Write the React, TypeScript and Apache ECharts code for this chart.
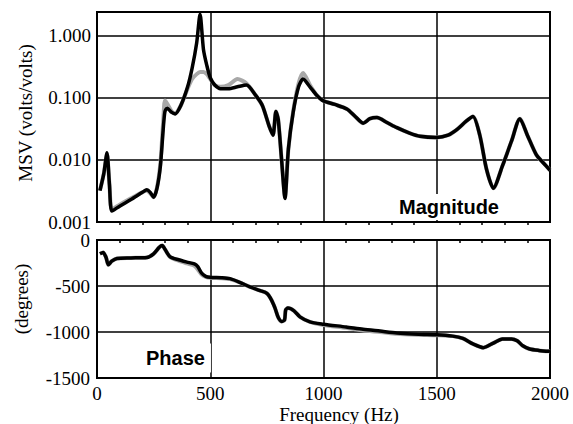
import React, { useEffect, useRef } from "react";
import * as echarts from "echarts";

const magFreq = [13, 30, 44, 55, 66, 100, 150, 200, 220, 235, 250, 265, 280, 292, 300, 310, 330, 345, 370, 400, 420, 440, 455, 470, 485, 500, 520, 545, 580, 620, 660, 700, 730, 760, 777, 790, 800, 815, 830, 845, 866, 890, 910, 940, 970, 1000, 1050, 1103, 1140, 1175, 1205, 1236, 1280, 1324, 1380, 1426, 1500, 1550, 1590, 1630, 1660, 1690, 1720, 1750, 1790, 1830, 1867, 1900, 1940, 1970, 2000];
const magBlack = [0.0032, 0.006, 0.013, 0.004, 0.0015, 0.0018, 0.0023, 0.003, 0.0033, 0.003, 0.0025, 0.0035, 0.008, 0.03, 0.06, 0.068, 0.058, 0.055, 0.075, 0.15, 0.3, 0.76, 2.2, 0.6, 0.33, 0.21, 0.16, 0.14, 0.14, 0.15, 0.16, 0.11, 0.075, 0.035, 0.025, 0.06, 0.045, 0.01, 0.0024, 0.015, 0.058, 0.15, 0.2, 0.15, 0.11, 0.089, 0.078, 0.066, 0.05, 0.039, 0.046, 0.048, 0.04, 0.033, 0.027, 0.024, 0.023, 0.025, 0.031, 0.042, 0.05, 0.025, 0.007, 0.0035, 0.008, 0.02, 0.046, 0.025, 0.012, 0.009, 0.0068];
const magGray = [0.0032, 0.006, 0.012, 0.004, 0.0016, 0.0019, 0.0024, 0.003, 0.0032, 0.0029, 0.0025, 0.0036, 0.009, 0.04, 0.09, 0.08, 0.06, 0.056, 0.075, 0.14, 0.2, 0.24, 0.26, 0.26, 0.24, 0.2, 0.16, 0.15, 0.16, 0.2, 0.17, 0.11, 0.075, 0.035, 0.025, 0.06, 0.045, 0.01, 0.0026, 0.015, 0.06, 0.17, 0.25, 0.16, 0.11, 0.089, 0.078, 0.066, 0.05, 0.039, 0.046, 0.048, 0.04, 0.033, 0.027, 0.024, 0.023, 0.025, 0.031, 0.042, 0.05, 0.025, 0.007, 0.0035, 0.008, 0.02, 0.046, 0.025, 0.012, 0.009, 0.0068];

const phaseFreq = [13, 27, 40, 50, 65, 88, 150, 220, 250, 275, 288, 300, 322, 360, 397, 430, 445, 462, 480, 500, 550, 587, 630, 675, 720, 750, 770, 786, 800, 815, 828, 833, 843, 870, 896, 940, 1000, 1100, 1175, 1250, 1324, 1420, 1500, 1570, 1615, 1660, 1705, 1750, 1790, 1830, 1855, 1880, 1910, 1950, 2000];
const phaseBlack = [-150, -135, -190, -270, -230, -200, -195, -190, -150, -80, -60, -100, -180, -215, -240, -260, -290, -360, -395, -405, -410, -420, -460, -510, -550, -580, -650, -740, -840, -885, -870, -760, -740, -770, -835, -890, -915, -945, -970, -990, -1010, -1025, -1030, -1045, -1070, -1130, -1170, -1120, -1075, -1075, -1095, -1150, -1185, -1200, -1210];
const phaseGray = [-150, -135, -190, -270, -230, -200, -195, -190, -150, -80, -60, -100, -185, -225, -255, -280, -320, -375, -400, -410, -415, -425, -460, -510, -550, -580, -650, -740, -840, -885, -870, -760, -740, -770, -835, -890, -925, -955, -985, -1000, -1020, -1030, -1035, -1045, -1070, -1130, -1170, -1120, -1075, -1075, -1095, -1150, -1185, -1200, -1210];

const xTicks = [0, 500, 1000, 1500, 2000];
const magTickLabels = ["0.001", "0.010", "0.100", "1.000"];

const serif = "'Liberation Serif', 'Times New Roman', Times, serif";
const sans = "'Liberation Sans', Arial, Helvetica, sans-serif";

export default function App() {
  const ref = useRef<HTMLDivElement>(null);
  useEffect(() => {
    if (!ref.current) return;
    const chart = echarts.init(ref.current, null, { renderer: "svg" });
    const pairs = (xs: number[], ys: number[]) => xs.map((x, i) => [x, ys[i]]);
    const labelStyle = { color: "#000", fontFamily: serif, fontSize: 19 };
    const splitLine = { show: true, lineStyle: { color: "#000", width: 1.5 } };
    const xBase = {
      type: "value",
      min: xTicks[0],
      max: xTicks[xTicks.length - 1],
      interval: 500,
      axisLine: { show: true, lineStyle: { color: "#000", width: 2 } },
      axisTick: { show: false },
      minorTick: { show: true, splitNumber: 5, length: 3, lineStyle: { color: "#000", width: 1.5 } },
      splitLine,
    };
    chart.setOption({
      animation: false,
      backgroundColor: "#fff",
      grid: [
        { left: 97, top: 12, width: 453, height: 210, show: true, borderColor: "#000", borderWidth: 2 },
        { left: 97, top: 240, width: 453, height: 138, show: true, borderColor: "#000", borderWidth: 2 },
      ],
      xAxis: [
        { ...xBase, gridIndex: 0, axisLabel: { show: false } },
        {
          ...xBase,
          gridIndex: 1,
          axisLabel: { show: true, margin: 6, ...labelStyle, formatter: (v: number) => String(v) },
        },
      ],
      yAxis: [
        {
          type: "log",
          logBase: 10,
          gridIndex: 0,
          min: 0.001,
          max: 2.4,
          axisLine: { show: true, lineStyle: { color: "#000", width: 2 } },
          axisTick: { show: false },
          splitLine,
          axisLabel: {
            ...labelStyle,
            margin: 6,
            lineHeight: 17,
            padding: [0, 0, 5, 0],
            formatter: (v: number) => {
              const e = Math.log10(v);
              if (Math.abs(e - Math.round(e)) > 1e-6) return "";
              const idx = Math.round(e) + 3;
              return magTickLabels[idx] ?? "";
            },
          },
        },
        {
          type: "value",
          gridIndex: 1,
          min: -1500,
          max: 0,
          interval: 500,
          axisLine: { show: true, lineStyle: { color: "#000", width: 2 } },
          axisTick: { show: false },
          splitLine,
          axisLabel: { ...labelStyle, margin: 7, lineHeight: 17, padding: [3, 0, 0, 0], formatter: (v: number) => String(v) },
        },
      ],
      series: [
        {
          type: "line", xAxisIndex: 0, yAxisIndex: 0, data: pairs(magFreq, magGray),
          showSymbol: false, smooth: 0.25, lineStyle: { color: "#a8a8a8", width: 4 },
        },
        {
          type: "line", xAxisIndex: 0, yAxisIndex: 0, data: pairs(magFreq, magBlack),
          showSymbol: false, smooth: 0.25, lineStyle: { color: "#000", width: 3.5 },
        },
        {
          type: "line", xAxisIndex: 1, yAxisIndex: 1, data: pairs(phaseFreq, phaseGray),
          showSymbol: false, smooth: 0.25, lineStyle: { color: "#a8a8a8", width: 4 },
        },
        {
          type: "line", xAxisIndex: 1, yAxisIndex: 1, data: pairs(phaseFreq, phaseBlack),
          showSymbol: false, smooth: 0.25, lineStyle: { color: "#000", width: 3.5 },
        },
      ],
      graphic: [
        {
          type: "text", x: 25, y: 113, rotation: Math.PI / 2, z: 10,
          style: { text: "MSV (volts/volts)", fill: "#000", fontFamily: serif, fontSize: 19, align: "center", verticalAlign: "middle" },
        },
        {
          type: "text", x: 21, y: 299, rotation: Math.PI / 2, z: 10,
          style: { text: "(degrees)", fill: "#000", fontFamily: serif, fontSize: 19, align: "center", verticalAlign: "middle" },
        },
        {
          type: "text", x: 339, y: 414, z: 10,
          style: { text: "Frequency (Hz)", fill: "#000", fontFamily: serif, fontSize: 19, align: "center", verticalAlign: "middle" },
        },
        {
          type: "text", x: 449, y: 207, z: 10,
          style: {
            text: "Magnitude", fill: "#000", fontFamily: sans, fontWeight: "bold", fontSize: 20, align: "center", verticalAlign: "middle",
            backgroundColor: "#fff", padding: [5, 3, 1, 3],
          },
        },
        {
          type: "text", x: 177, y: 358, z: 10,
          style: {
            text: "Phase", fill: "#000", fontFamily: sans, fontWeight: "bold", fontSize: 20, align: "center", verticalAlign: "middle",
            backgroundColor: "#fff", padding: [6, 6, 3, 3],
          },
        },
      ],
    });
    return () => chart.dispose();
  }, []);
  return <div ref={ref} style={{ position: "fixed", left: 0, top: 0, width: 573, height: 424 }} />;
}
